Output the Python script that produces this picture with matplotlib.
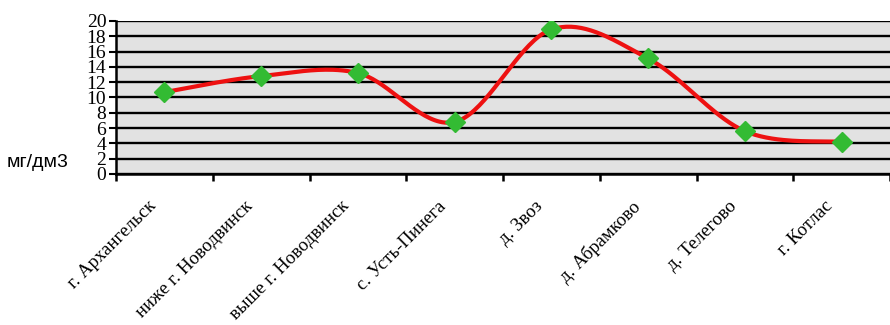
import numpy as np
import matplotlib
matplotlib.use("Agg")
import matplotlib.pyplot as plt
from matplotlib.transforms import ScaledTranslation

# Concentration along the river, upstream sampling sites
sites = ["г. Архангельск", "ниже г. Новодвинск", "выше г. Новодвинск", "с. Усть-Пинега",
         "д. Звоз", "д. Абрамково", "д. Телегово", "г. Котлас"]
values = [10.7, 12.8, 13.2, 6.8, 18.9, 15.1, 5.6, 4.2]
y_ticks = [0, 2, 4, 6, 8, 10, 12, 14, 16, 18, 20]


def smooth_curve(x, y, steps=40):
    """Catmull-Rom style smoothing through every point (cubic Bezier segments)."""
    x = np.asarray(x, float)
    y = np.asarray(y, float)
    px = np.concatenate([[x[0]], x, [x[-1]]])
    py = np.concatenate([[y[0]], y, [y[-1]]])
    xs, ys = [], []
    t = np.linspace(0, 1, steps)
    for i in range(1, len(px) - 2):
        p0 = np.array([px[i], py[i]])
        p3 = np.array([px[i + 1], py[i + 1]])
        p1 = p0 + (np.array([px[i + 1], py[i + 1]]) - np.array([px[i - 1], py[i - 1]])) / 6
        p2 = p3 - (np.array([px[i + 2], py[i + 2]]) - np.array([px[i], py[i]])) / 6
        b = ((1 - t) ** 3)[:, None] * p0 + (3 * (1 - t) ** 2 * t)[:, None] * p1 \
            + (3 * (1 - t) * t ** 2)[:, None] * p2 + (t ** 3)[:, None] * p3
        xs.extend(b[:, 0])
        ys.extend(b[:, 1])
    return np.array(xs), np.array(ys)


fig = plt.figure(figsize=(8.9, 3.25), dpi=100)
ax = fig.add_axes([116 / 890, 1 - 174 / 325, 1 - 116 / 890, (174 - 21) / 325])
ax.set_facecolor("#e2e2e2")

pos = np.arange(len(sites)) + 0.5
sx, sy = smooth_curve(pos, values)
ax.plot(sx, sy, color="#ee1111", lw=3, zorder=3, solid_capstyle="round")
ax.plot(pos, values, ls="none", marker="D", ms=10, color="#33bb33",
        markeredgecolor="#33bb33", zorder=4)

ax.set_xlim(0, len(sites))
ax.set_ylim(0, 20)
ax.set_yticks(y_ticks)
ax.set_yticklabels([str(v) for v in y_ticks], family="Liberation Serif", fontsize=14)
for v in y_ticks:
    ax.axhline(v, color="black", lw=1.7, zorder=1)

ax.set_xticks(np.arange(len(sites) + 1), minor=False)
ax.set_xticklabels([""] * (len(sites) + 1))
ax.set_xticks(pos, minor=True)
ax.set_xticklabels(sites, minor=True, rotation=45, ha="right", rotation_mode="anchor",
                   family="Liberation Serif", fontsize=13.5)
ax.tick_params(axis="x", which="minor", length=0, pad=17)
ax.tick_params(axis="x", which="major", length=5, width=1.8, direction="out")
ax.tick_params(axis="y", length=5, width=1.5, direction="out", pad=2)
shift = ScaledTranslation(-17 / 100, 0, fig.dpi_scale_trans)
for lbl in ax.get_xticklabels(minor=True):
    lbl.set_transform(lbl.get_transform() + shift)

for side in ["top", "right"]:
    ax.spines[side].set_visible(False)
ax.spines["left"].set_linewidth(1.8)
ax.spines["bottom"].set_linewidth(1.8)

fig.text(7 / 890, 1 - 163 / 325, "мг/дм3", family="Liberation Sans", fontsize=14,
         va="center", ha="left")

fig.savefig("out.png", dpi=100)
